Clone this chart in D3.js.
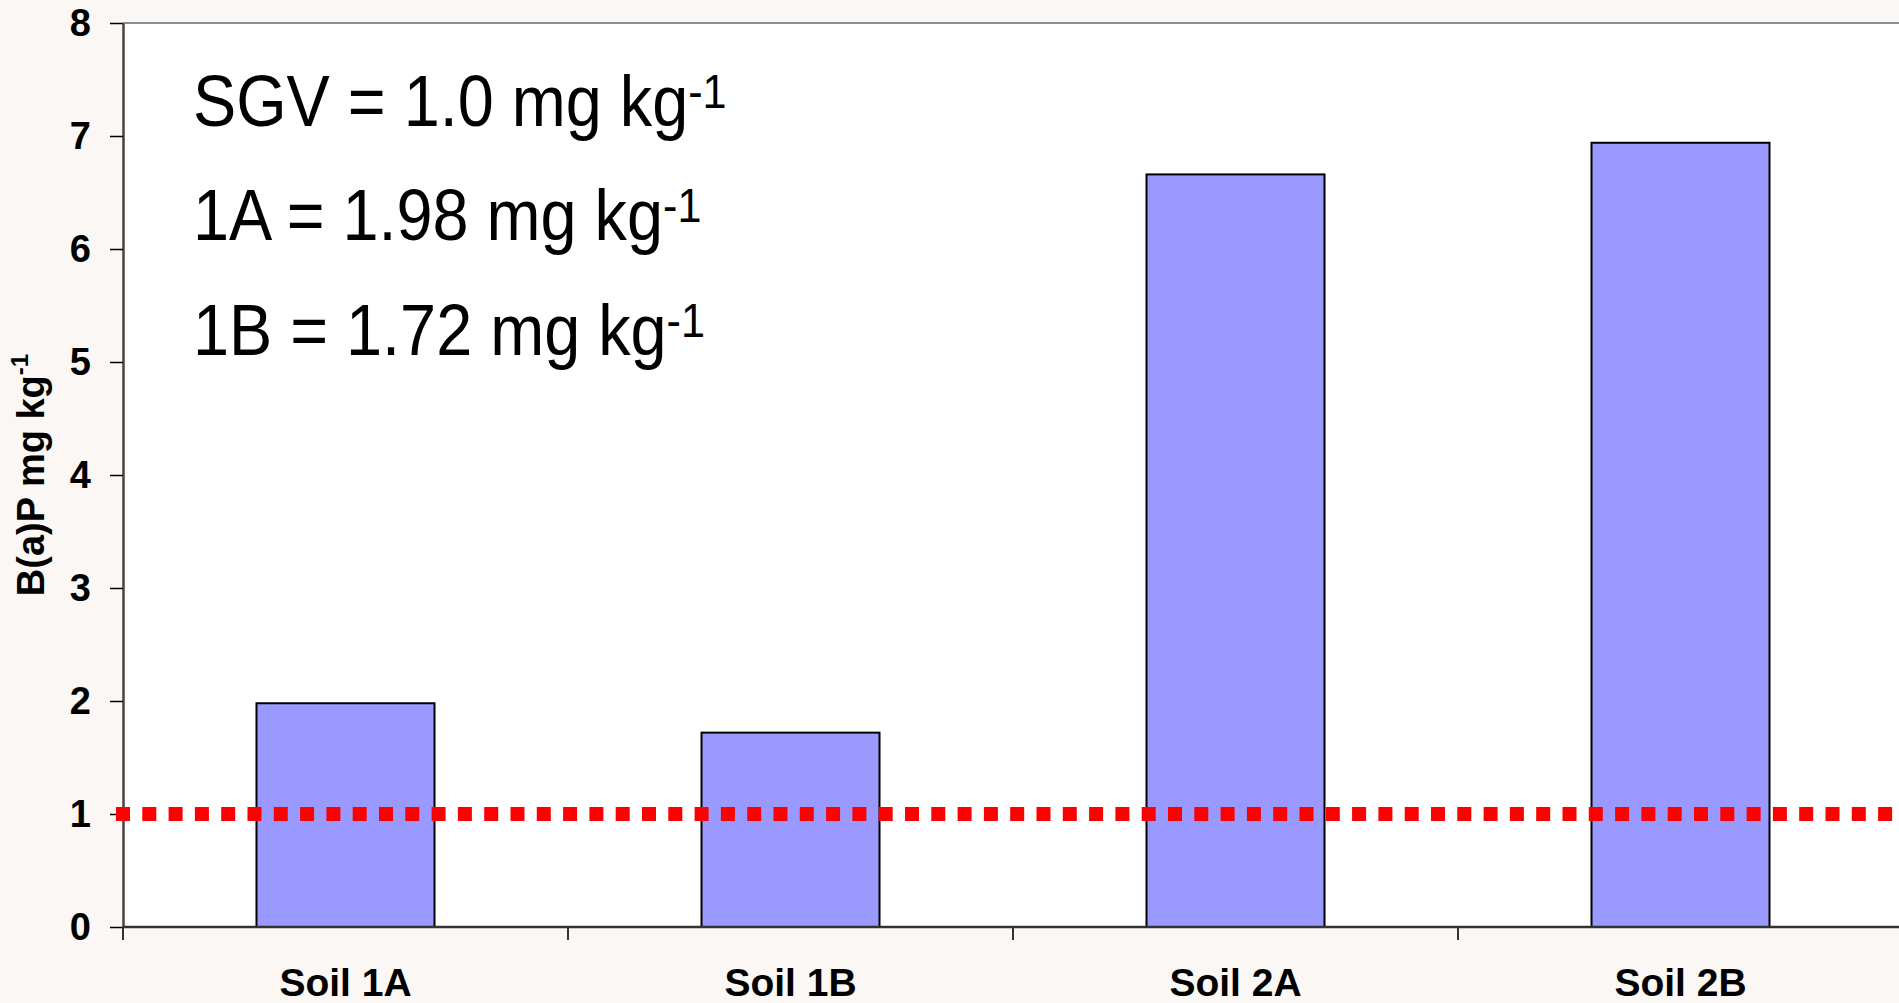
<!DOCTYPE html>
<html>
<head>
<meta charset="utf-8">
<script src="https://cdn.jsdelivr.net/npm/d3@7"></script>
<style>
  html, body { margin: 0; padding: 0; background: #faf7f4; overflow: hidden; }
  svg { display: block; font-family: Arial, "Liberation Sans", sans-serif; }
</style>
</head>
<body>
<script>
// data
const soils = ["Soil 1A", "Soil 1B", "Soil 2A", "Soil 2B"];
const bapValues = [1.98, 1.72, 6.66, 6.94];
const yTicks = [0, 1, 2, 3, 4, 5, 6, 7, 8];
const sgv = 1.0;
const notes = [
  {label: "SGV = 1.0 mg kg", sup: "-1"},
  {label: "1A = 1.98 mg kg", sup: "-1"},
  {label: "1B = 1.72 mg kg", sup: "-1"}
];

const width = 1899, height = 1003;
const margin = {top: 23, right: -4, bottom: 76, left: 123};

const svg = d3.select("body")
  .append("svg")
  .attr("width", width)
  .attr("height", height);

const x = d3.scaleBand()
  .domain(soils)
  .range([margin.left, width - margin.right])
  .paddingInner(0.6)
  .paddingOuter(0.3);

const y = d3.scaleLinear()
  .domain([0, 8])
  .range([height - margin.bottom, margin.top]);

// plot area
svg.append("rect")
  .attr("x", margin.left)
  .attr("y", margin.top)
  .attr("width", width - margin.right - margin.left)
  .attr("height", y(0) - margin.top)
  .attr("fill", "#fff");

// top border
svg.append("line")
  .attr("x1", margin.left).attr("x2", width)
  .attr("y1", margin.top).attr("y2", margin.top)
  .attr("stroke", "#8c8c8c")
  .attr("stroke-width", 2);

// bars
svg.append("g")
  .selectAll("rect")
  .data(bapValues)
  .join("rect")
  .attr("x", (d, i) => x(soils[i]))
  .attr("y", d => y(d))
  .attr("width", x.bandwidth())
  .attr("height", d => y(0) - y(d))
  .attr("fill", "#9999ff")
  .attr("stroke", "#000")
  .attr("stroke-width", 2);

// y axis
const yAxis = svg.append("g")
  .attr("transform", `translate(${margin.left},0)`)
  .call(d3.axisLeft(y).tickValues(yTicks).tickSize(13).tickPadding(19).tickSizeOuter(0));
yAxis.select(".domain").attr("stroke", "#444").attr("stroke-width", 2.5);
yAxis.selectAll(".tick line").attr("stroke", "#000").attr("stroke-width", 1.5);
yAxis.selectAll(".tick text")
  .attr("font-size", 38)
  .attr("font-weight", "bold")
  .attr("fill", "#000")
  .attr("font-family", "Arial, 'Liberation Sans', sans-serif");

// x axis: line plus ticks at band boundaries
const xAxisG = svg.append("g");
xAxisG.append("line")
  .attr("x1", margin.left).attr("x2", width)
  .attr("y1", y(0)).attr("y2", y(0))
  .attr("stroke", "#333")
  .attr("stroke-width", 2.5);
xAxisG.selectAll("line.tk")
  .data(soils)
  .join("line")
  .attr("class", "tk")
  .attr("x1", d => x(d) - (x.step() - x.bandwidth()) / 2)
  .attr("x2", d => x(d) - (x.step() - x.bandwidth()) / 2)
  .attr("y1", y(0))
  .attr("y2", y(0) + 13)
  .attr("stroke", "#333")
  .attr("stroke-width", 2);

xAxisG.selectAll("text")
  .data(soils)
  .join("text")
  .attr("x", d => x(d) + x.bandwidth() / 2)
  .attr("y", 996)
  .attr("text-anchor", "middle")
  .attr("font-size", 39)
  .attr("font-weight", "bold")
  .text(d => d);

// SGV reference line
svg.append("line")
  .attr("x1", 116)
  .attr("x2", width)
  .attr("y1", y(sgv))
  .attr("y2", y(sgv))
  .attr("stroke", "#ff0000")
  .attr("stroke-width", 14)
  .attr("stroke-dasharray", "14,12.3");

// y axis title
svg.append("text")
  .attr("transform", `translate(44,${(margin.top + y(0)) / 2}) rotate(-90)`)
  .attr("text-anchor", "middle")
  .attr("font-size", 38)
  .attr("font-weight", "bold")
  .text("B(a)P mg kg")
  .append("tspan")
  .attr("dy", -16)
  .attr("font-size", 24)
  .text("-1");

// annotations (slightly condensed like the original)
const noteG = svg.append("g")
  .attr("transform", "translate(193,0) scale(0.9,1)");
notes.forEach((n, i) => {
  const t = noteG.append("text")
    .attr("x", 0)
    .attr("y", 126 + i * 114.5)
    .attr("font-size", 72)
    .attr("fill", "#000")
    .text(n.label);
  t.append("tspan")
    .attr("dy", -18)
    .attr("font-size", 48)
    .text(n.sup);
});
</script>
</body>
</html>
